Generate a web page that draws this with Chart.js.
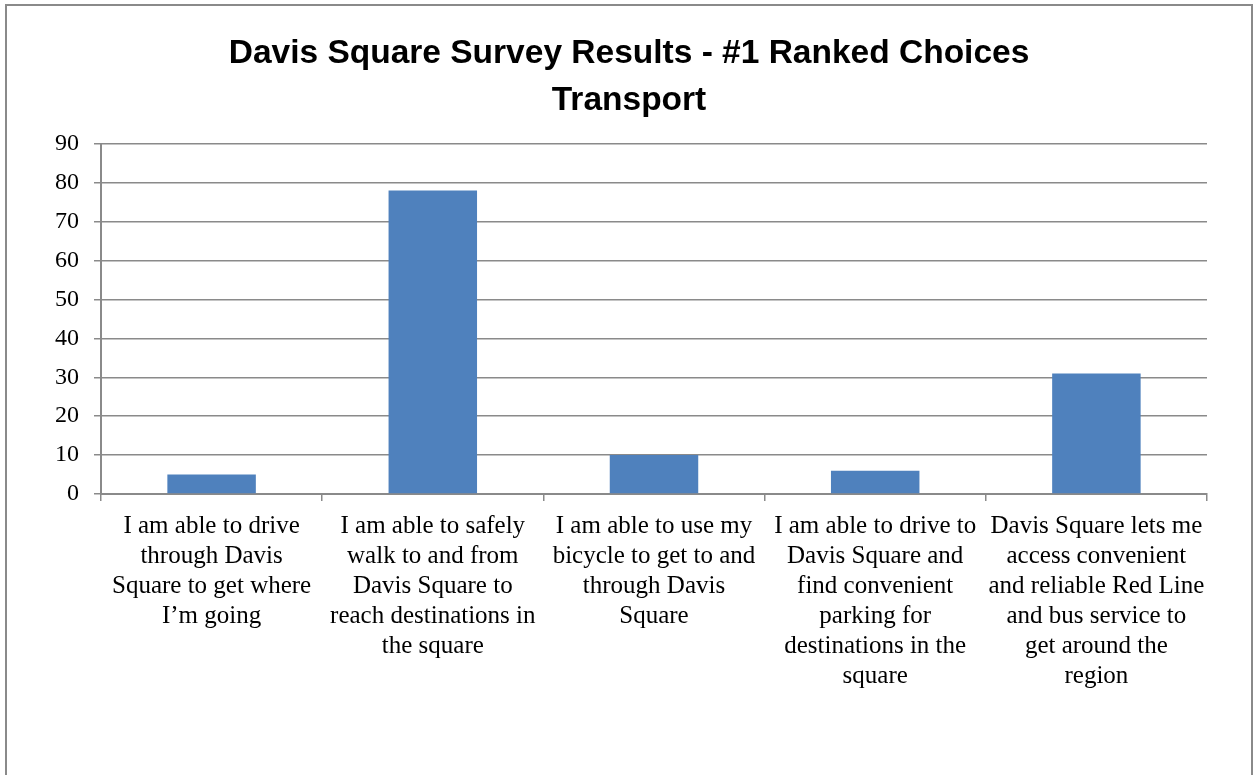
<!DOCTYPE html>
<html>
<head>
<meta charset="utf-8">
<script src="https://cdn.jsdelivr.net/npm/chart.js@4"></script>
<style>
  html, body { margin: 0; padding: 0; background: #fff; }
  #frame { position: absolute; left: 5px; top: 4px; width: 1248px; height: 800px; border: 2px solid #8a8a8a; box-sizing: border-box; }
  #wrap { position: absolute; left: 0; top: 0; width: 1254px; height: 775px; }
</style>
</head>
<body>
<div id="frame"></div>
<div id="wrap"><canvas id="c" width="1254" height="775"></canvas></div>
<script>
const titleLines = ["Davis Square Survey Results - #1 Ranked Choices", "Transport"];
const categories = [
  ["I am able to drive", "through Davis", "Square to get where", "I\u2019m going"],
  ["I am able to safely", "walk to and from", "Davis Square to", "reach destinations in", "the square"],
  ["I am able to use my", "bicycle to get to and", "through Davis", "Square"],
  ["I am able to drive to", "Davis Square and", "find convenient", "parking for", "destinations in the", "square"],
  ["Davis Square lets me", "access convenient", "and reliable Red Line", "and bus service to", "get around the", "region"]
];
const values = [5, 78, 10, 6, 31];
const yMin = 0, yMax = 90, yStep = 10;

const serif = "'Liberation Serif', 'Times New Roman', serif";
const gridColor = '#8a8a8a';

new Chart(document.getElementById('c'), {
  type: 'bar',
  data: {
    labels: categories,
    datasets: [{
      data: values,
      backgroundColor: '#4F81BD',
      borderWidth: 0,
      barPercentage: 0.4,
      categoryPercentage: 1.0,
      yAxisID: 'y'
    }]
  },
  options: {
    responsive: false,
    animation: false,
    devicePixelRatio: 1,
    layout: { padding: { left: 6, right: 2, top: 30, bottom: 0 } },
    plugins: {
      legend: { display: false },
      tooltip: { enabled: false },
      title: {
        display: true,
        text: titleLines,
        color: '#000',
        font: { family: "'Liberation Sans', Arial, sans-serif", size: 33.5, weight: 'bold', lineHeight: 1.4 },
        padding: { top: 0, bottom: 20 }
      }
    },
    scales: {
      x: {
        grid: { display: true, drawOnChartArea: false, drawTicks: true, tickLength: 7, color: gridColor, lineWidth: 1.5, offset: true },
        border: { display: true, color: gridColor, width: 2 },
        ticks: { color: '#000', font: { family: serif, size: 25, lineHeight: 1.2 }, padding: 10, maxRotation: 0, autoSkip: false },
        afterFit: (s) => { s.height = 281; }
      },
      y: {
        min: yMin, max: yMax,
        grid: { color: gridColor, lineWidth: 1.5, tickLength: 7, drawTicks: true },
        border: { display: true, color: gridColor, width: 2 },
        ticks: { stepSize: yStep, color: '#000', font: { family: serif, size: 24 }, padding: 15 },
        afterFit: (s) => { s.width = 95; }
      },
      yRight: {
        position: 'right',
        display: true,
        min: yMin, max: yMax,
        grid: { display: false, drawTicks: false },
        border: { display: false },
        ticks: { display: false },
        afterFit: (s) => { s.width = 45; }
      }
    }
  }
});
</script>
</body>
</html>
